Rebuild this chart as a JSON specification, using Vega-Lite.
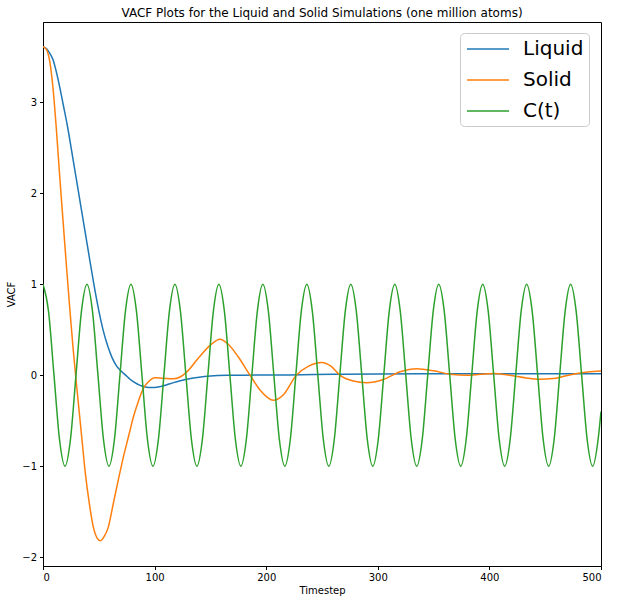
{
  "$schema": "https://vega.github.io/schema/vega-lite/v6.json",
  "width": 558,
  "height": 544,
  "autosize": "none",
  "padding": {"left": 43, "top": 22, "right": 16, "bottom": 38},
  "title": {
    "text": "VACF Plots for the Liquid and Solid Simulations (one million atoms)",
    "fontSize": 12,
    "fontWeight": "normal",
    "color": "black",
    "anchor": "middle",
    "offset": 2
  },
  "datasets": {
    "liquid": [
      {"t": 0, "v": 3.61}, {"t": 3, "v": 3.59}, {"t": 6, "v": 3.54}, {"t": 9, "v": 3.465},
      {"t": 12, "v": 3.33}, {"t": 15, "v": 3.165}, {"t": 18, "v": 2.98}, {"t": 22, "v": 2.73},
      {"t": 26, "v": 2.44}, {"t": 30, "v": 2.145}, {"t": 34, "v": 1.85}, {"t": 38, "v": 1.555},
      {"t": 42, "v": 1.26}, {"t": 46, "v": 0.97}, {"t": 50, "v": 0.71}, {"t": 54, "v": 0.49},
      {"t": 58, "v": 0.32}, {"t": 62, "v": 0.19}, {"t": 66, "v": 0.1}, {"t": 70, "v": 0.045},
      {"t": 74, "v": 0.0}, {"t": 78, "v": -0.045}, {"t": 82, "v": -0.08}, {"t": 86, "v": -0.107},
      {"t": 90, "v": -0.125}, {"t": 95, "v": -0.136}, {"t": 100, "v": -0.136}, {"t": 105, "v": -0.126},
      {"t": 111, "v": -0.105}, {"t": 117, "v": -0.082}, {"t": 123, "v": -0.062}, {"t": 130, "v": -0.042},
      {"t": 140, "v": -0.022}, {"t": 150, "v": -0.01}, {"t": 165, "v": -0.002}, {"t": 180, "v": 0.0},
      {"t": 220, "v": 0.003}, {"t": 260, "v": 0.009}, {"t": 300, "v": 0.014}, {"t": 350, "v": 0.016},
      {"t": 400, "v": 0.017}, {"t": 450, "v": 0.017}, {"t": 500, "v": 0.017}
    ],
    "solid": [
      {"t": 0, "v": 3.61}, {"t": 3, "v": 3.58}, {"t": 6, "v": 3.45}, {"t": 9, "v": 3.15},
      {"t": 12, "v": 2.7}, {"t": 15, "v": 2.18}, {"t": 18, "v": 1.69}, {"t": 21, "v": 1.2},
      {"t": 24, "v": 0.73}, {"t": 27, "v": 0.29}, {"t": 30, "v": -0.1}, {"t": 31.7, "v": -0.31},
      {"t": 34.7, "v": -0.68}, {"t": 37.6, "v": -1.04}, {"t": 41.5, "v": -1.41}, {"t": 45.1, "v": -1.67},
      {"t": 48.5, "v": -1.79}, {"t": 51.5, "v": -1.82}, {"t": 55, "v": -1.77}, {"t": 58.5, "v": -1.67},
      {"t": 63, "v": -1.41}, {"t": 67.5, "v": -1.15}, {"t": 72, "v": -0.9}, {"t": 76.5, "v": -0.68},
      {"t": 81, "v": -0.46}, {"t": 85.4, "v": -0.29}, {"t": 89.9, "v": -0.146}, {"t": 94.4, "v": -0.073},
      {"t": 100.4, "v": -0.028}, {"t": 107.8, "v": -0.034}, {"t": 116.8, "v": -0.04}, {"t": 122.8, "v": -0.02},
      {"t": 130, "v": 0.05}, {"t": 140, "v": 0.2}, {"t": 150, "v": 0.33}, {"t": 158.5, "v": 0.395},
      {"t": 166, "v": 0.34}, {"t": 175, "v": 0.2}, {"t": 185.5, "v": 0.0}, {"t": 195, "v": -0.17},
      {"t": 206.5, "v": -0.275}, {"t": 215, "v": -0.22}, {"t": 227, "v": 0.0}, {"t": 238, "v": 0.1},
      {"t": 249.7, "v": 0.14}, {"t": 258, "v": 0.1}, {"t": 266, "v": 0.0}, {"t": 278, "v": -0.065},
      {"t": 290, "v": -0.084}, {"t": 305, "v": -0.048}, {"t": 320, "v": 0.037}, {"t": 335, "v": 0.07},
      {"t": 350, "v": 0.048}, {"t": 365, "v": 0.01}, {"t": 380, "v": 0.0}, {"t": 392, "v": 0.01},
      {"t": 404, "v": 0.018}, {"t": 418, "v": 0.0}, {"t": 433, "v": -0.03}, {"t": 445, "v": -0.044},
      {"t": 457, "v": -0.037}, {"t": 466, "v": -0.015}, {"t": 475, "v": 0.01}, {"t": 488, "v": 0.035},
      {"t": 500, "v": 0.047}
    ],
    "ct": [
      {"t": 0, "v": 1}, {"t": 4.9, "v": 0.707}, {"t": 9.85, "v": 0}, {"t": 14.8, "v": -0.707},
      {"t": 19.7, "v": -1}, {"t": 24.6, "v": -0.707}, {"t": 29.55, "v": 0}, {"t": 34.5, "v": 0.707},
      {"t": 39.4, "v": 1}, {"t": 44.3, "v": 0.707}, {"t": 49.25, "v": 0}, {"t": 54.2, "v": -0.707},
      {"t": 59.1, "v": -1}, {"t": 64.0, "v": -0.707}, {"t": 68.95, "v": 0}, {"t": 73.9, "v": 0.707},
      {"t": 78.8, "v": 1}, {"t": 83.7, "v": 0.707}, {"t": 88.65, "v": 0}, {"t": 93.6, "v": -0.707},
      {"t": 98.5, "v": -1}, {"t": 103.4, "v": -0.707}, {"t": 108.35, "v": 0}, {"t": 113.3, "v": 0.707},
      {"t": 118.2, "v": 1}, {"t": 123.1, "v": 0.707}, {"t": 128.05, "v": 0}, {"t": 133.0, "v": -0.707},
      {"t": 137.9, "v": -1}, {"t": 142.8, "v": -0.707}, {"t": 147.75, "v": 0}, {"t": 152.7, "v": 0.707},
      {"t": 157.6, "v": 1}, {"t": 162.5, "v": 0.707}, {"t": 167.45, "v": 0}, {"t": 172.4, "v": -0.707},
      {"t": 177.3, "v": -1}, {"t": 182.2, "v": -0.707}, {"t": 187.15, "v": 0}, {"t": 192.1, "v": 0.707},
      {"t": 197.0, "v": 1}, {"t": 201.9, "v": 0.707}, {"t": 206.85, "v": 0}, {"t": 211.8, "v": -0.707},
      {"t": 216.7, "v": -1}, {"t": 221.6, "v": -0.707}, {"t": 226.55, "v": 0}, {"t": 231.5, "v": 0.707},
      {"t": 236.4, "v": 1}, {"t": 241.3, "v": 0.707}, {"t": 246.25, "v": 0}, {"t": 251.2, "v": -0.707},
      {"t": 256.1, "v": -1}, {"t": 261.0, "v": -0.707}, {"t": 265.95, "v": 0}, {"t": 270.9, "v": 0.707},
      {"t": 275.8, "v": 1}, {"t": 280.7, "v": 0.707}, {"t": 285.65, "v": 0}, {"t": 290.6, "v": -0.707},
      {"t": 295.5, "v": -1}, {"t": 300.4, "v": -0.707}, {"t": 305.35, "v": 0}, {"t": 310.3, "v": 0.707},
      {"t": 315.2, "v": 1}, {"t": 320.1, "v": 0.707}, {"t": 325.05, "v": 0}, {"t": 330.0, "v": -0.707},
      {"t": 334.9, "v": -1}, {"t": 339.8, "v": -0.707}, {"t": 344.75, "v": 0}, {"t": 349.7, "v": 0.707},
      {"t": 354.6, "v": 1}, {"t": 359.5, "v": 0.707}, {"t": 364.45, "v": 0}, {"t": 369.4, "v": -0.707},
      {"t": 374.3, "v": -1}, {"t": 379.2, "v": -0.707}, {"t": 384.15, "v": 0}, {"t": 389.1, "v": 0.707},
      {"t": 394.0, "v": 1}, {"t": 398.9, "v": 0.707}, {"t": 403.85, "v": 0}, {"t": 408.8, "v": -0.707},
      {"t": 413.7, "v": -1}, {"t": 418.6, "v": -0.707}, {"t": 423.55, "v": 0}, {"t": 428.5, "v": 0.707},
      {"t": 433.4, "v": 1}, {"t": 438.3, "v": 0.707}, {"t": 443.25, "v": 0}, {"t": 448.2, "v": -0.707},
      {"t": 453.1, "v": -1}, {"t": 458.0, "v": -0.707}, {"t": 462.95, "v": 0}, {"t": 467.9, "v": 0.707},
      {"t": 472.8, "v": 1}, {"t": 477.7, "v": 0.707}, {"t": 482.65, "v": 0}, {"t": 487.6, "v": -0.707},
      {"t": 492.5, "v": -1}, {"t": 497.4, "v": -0.707}, {"t": 500, "v": -0.4}
    ]
  },
  "encoding": {
    "x": {
      "field": "t",
      "type": "quantitative",
      "title": "Timestep",
      "scale": {"domain": [0, 500], "nice": false, "zero": false},
      "axis": {"values": [0, 100, 200, 300, 400, 500], "titlePadding": 3}
    },
    "y": {
      "field": "v",
      "type": "quantitative",
      "title": "VACF",
      "scale": {"domain": [-2.097, 3.881], "nice": false, "zero": false},
      "axis": {"values": [-2, -1, 0, 1, 2, 3], "titlePadding": 5}
    }
  },
  "layer": [
    {
      "data": {"name": "liquid"},
      "mark": {"type": "line", "interpolate": "monotone", "strokeWidth": 1.5, "clip": true},
      "encoding": {"color": {"datum": "Liquid"}}
    },
    {
      "data": {"name": "solid"},
      "mark": {"type": "line", "interpolate": "monotone", "strokeWidth": 1.5, "clip": true},
      "encoding": {"color": {"datum": "Solid"}}
    },
    {
      "data": {"name": "ct"},
      "mark": {"type": "line", "interpolate": "monotone", "strokeWidth": 1.5, "clip": true},
      "encoding": {
        "color": {
          "datum": "C(t)",
          "type": "nominal",
          "scale": {"domain": ["Liquid", "Solid", "C(t)"], "range": ["#1f77b4", "#ff7f0e", "#2ca02c"]},
          "legend": {
            "title": null,
            "orient": "none",
            "legendX": 417,
            "legendY": 11,
            "labelFontSize": 20,
            "labelColor": "black",
            "symbolType": "M-2.1,0H2.1",
            "symbolSize": 400,
            "symbolStrokeWidth": 1.5,
            "symbolOffset": 12,
            "labelOffset": 24,
            "rowPadding": 10,
            "padding": 5,
            "fillColor": "white",
            "strokeColor": "#cccccc",
            "cornerRadius": 4
          }
        }
      }
    }
  ],
  "config": {
    "font": "DejaVu Sans",
    "view": {"stroke": "black", "strokeWidth": 1},
    "axis": {
      "grid": false,
      "domainColor": "black",
      "tickColor": "black",
      "tickSize": 3.5,
      "labelColor": "black",
      "labelFontSize": 10,
      "labelPadding": 3,
      "titleColor": "black",
      "titleFontSize": 10,
      "titleFontWeight": "normal"
    }
  }
}
